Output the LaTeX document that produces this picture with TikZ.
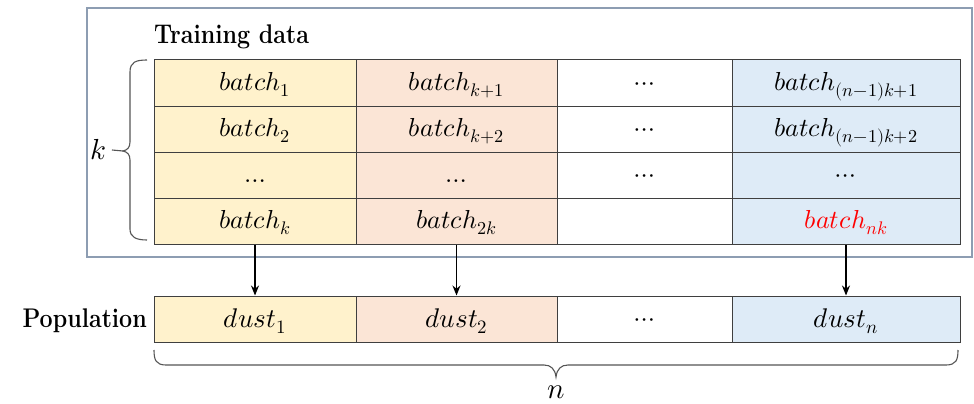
\documentclass[tikz,border=0pt]{standalone}
\usepackage{fontspec}
\usepackage{unicode-math}
\usepackage{graphicx}
\setmathfont{Latin Modern Math}
\usetikzlibrary{arrows.meta}
\definecolor{cyel}{HTML}{FFF2CC}
\definecolor{cpink}{HTML}{FBE5D6}
\definecolor{cblue}{HTML}{DEEBF7}
\definecolor{cframe}{HTML}{8D9DB2}
\definecolor{cline}{HTML}{3F3F3F}
\definecolor{cbrace}{HTML}{555555}
\newcommand{\narrowlab}[1]{\scalebox{0.86}[1]{#1}}
\begin{document}
\begin{tikzpicture}[x=1pt,y=-1pt,
  cell/.style={draw=cline, line width=1pt, inner sep=0pt, minimum height=46pt,
    text height=17pt, text depth=3pt, font=\fontsize{26}{30}\selectfont},
  w1/.style={minimum width=202pt},
  w2/.style={minimum width=201pt},
  w3/.style={minimum width=175pt},
  w4/.style={minimum width=228pt},
  ycell/.style={cell, fill=cyel},
  pcell/.style={cell, fill=cpink},
  wcell/.style={cell, fill=white},
  bcell/.style={cell, fill=cblue},
  dcell/.style={font=\fontsize{27}{30}\selectfont, text height=18pt, text depth=2pt},
  frame/.style={draw=cframe, line width=1.6pt, inner sep=0pt},
  lab/.style={font=\bfseries\fontsize{27}{30}\selectfont, inner sep=0pt},
  arr/.style={-{Stealth[length=10pt,width=8pt]}, line width=1.2pt, black},
  bracestyle/.style={draw=cbrace, line width=1.1pt},
  varlab/.style={font=\fontsize{29}{32}\selectfont, inner sep=0pt}
]
\useasboundingbox (0,0) rectangle (974,404);
% outer frame
\node[frame, minimum width=885pt, minimum height=249pt] (frame) at (529.5,132.5) {};
\node[lab, anchor=base west] (train) at (154,44) {\narrowlab{Training data}};
% table
\node[ycell,w1] (c11) at (255,83) {$batch_{1}$};
\node[pcell,w2] (c12) at (456.5,83) {$batch_{k+1}$};
\node[wcell,w3] (c13) at (644.5,83) {$\cdots$};
\node[bcell,w4] (c14) at (846,83) {$batch_{(n-1)k+1}$};
\node[ycell,w1] (c21) at (255,129) {$batch_{2}$};
\node[pcell,w2] (c22) at (456.5,129) {$batch_{k+2}$};
\node[wcell,w3] (c23) at (644.5,129) {$\cdots$};
\node[bcell,w4] (c24) at (846,129) {$batch_{(n-1)k+2}$};
\node[ycell,w1] (c31) at (255,175) {$\ldots$};
\node[pcell,w2] (c32) at (456.5,175) {$\ldots$};
\node[wcell,w3] (c33) at (644.5,175) {$\cdots$};
\node[bcell,w4] (c34) at (846,175) {$\cdots$};
\node[ycell,w1] (c41) at (255,221) {$batch_{k}$};
\node[pcell,w2] (c42) at (456.5,221) {$batch_{2k}$};
\node[wcell,w3] (c43) at (644.5,221) {};
\node[bcell,w4] (c44) at (846,221) {\textcolor{red}{$batch_{nk}$}};
% population
\node[lab, anchor=base east] (pop) at (147,327) {\narrowlab{Population}};
\node[ycell,w1,dcell] (p1) at (255,319) {$dust_{1}$};
\node[pcell,w2,dcell] (p2) at (456.5,319) {$dust_{2}$};
\node[wcell,w3] (p3) at (644.5,319) {$\cdots$};
\node[bcell,w4,dcell] (p4) at (846,319) {$dust_{n}$};
% arrows
\draw[arr] (c41.south) -- (p1.north);
\draw[arr] (c42.south) -- (p2.north);
\draw[arr] (c44.south) -- (p4.north);
% left brace
\coordinate (ktip) at (123,151);
\draw[bracestyle] (147,60) .. controls (136,60) and (130,62) .. (130,72) -- (130,142)
  .. controls (130,148) and (127,150) .. (ktip)
  .. controls (127,152) and (130,154) .. (130,160) -- (130,229)
  .. controls (130,237) and (136,240) .. (147,240);
\node[varlab] (k) at (98,150) {$k$};
\draw[bracestyle] ([xshift=6pt]k.east) -- (ktip);
% bottom brace
\coordinate (ntip) at (556,377);
\draw[bracestyle] (154,350) .. controls (154,360) and (156,365) .. (166,365) -- (544,365)
  .. controls (551,365) and (555,369) .. (ntip)
  .. controls (557,369) and (561,365) .. (568,365) -- (946,365)
  .. controls (956,365) and (958,360) .. (958,350);
\node[varlab] (n) at (556,392) {$n$};
\end{tikzpicture}
\end{document}
